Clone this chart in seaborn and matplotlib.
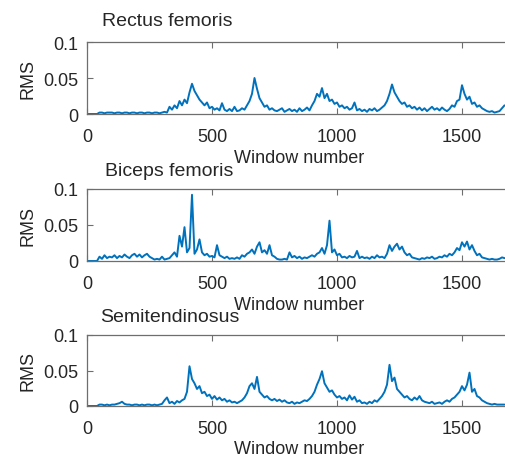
import numpy as np
import pandas as pd
import matplotlib
matplotlib.use("Agg")
import matplotlib.pyplot as plt
import seaborn as sns

# Window index: one value every 10 windows
windows = list(range(0, 1680, 10))

muscles = ["Rectus femoris", "Biceps femoris", "Semitendinosus"]

rectus_femoris = [
    0, 0, 0, 0, 0, .002, .002, .001, .002, .002,
    .002, .001, .002, .002, .001, .002, .002, .001, .002, .002,
    .001, .002, .002, .001, .002, .002, .001, .002, .002, .001,
    .002, .003, .002, .010, .006, .012, .008, .018, .012, .020,
    .015, .030, .042, .032, .026, .020, .016, .012, .016, .008,
    .010, .006, .008, .005, .015, .006, .004, .007, .004, .010,
    .004, .005, .008, .006, .012, .018, .028, .050, .035, .022,
    .016, .010, .012, .006, .008, .005, .004, .006, .008, .003,
    .005, .007, .004, .006, .003, .008, .004, .006, .009, .005,
    .012, .018, .028, .024, .036, .022, .028, .018, .020, .014,
    .016, .010, .012, .008, .010, .006, .008, .016, .005, .007,
    .004, .006, .003, .007, .005, .008, .004, .006, .009, .012,
    .018, .028, .041, .030, .024, .018, .014, .016, .010, .012,
    .008, .010, .006, .009, .005, .008, .004, .007, .010, .006,
    .008, .005, .009, .006, .004, .007, .012, .010, .018, .020,
    .040, .028, .020, .024, .014, .016, .010, .012, .008, .006,
    .004, .003, .004, .002, .003, .004, .008, .012,
]

biceps_femoris = [
    0, 0, 0, 0, 0, .006, .003, .008, .004, .006,
    .005, .008, .004, .007, .005, .009, .006, .004, .008, .010,
    .006, .009, .005, .008, .010, .006, .004, .002, .003, .002,
    .006, .002, .003, .004, .008, .012, .006, .035, .020, .047,
    .012, .018, .092, .010, .016, .030, .012, .008, .010, .006,
    .007, .005, .022, .008, .006, .004, .006, .003, .004, .003,
    .005, .003, .008, .006, .010, .012, .016, .010, .020, .026,
    .012, .015, .010, .022, .008, .006, .003, .002, .002, .003,
    .002, .012, .005, .007, .004, .006, .003, .005, .004, .006,
    .008, .006, .010, .012, .018, .010, .022, .056, .012, .016,
    .008, .010, .005, .006, .004, .007, .005, .006, .014, .004,
    .006, .004, .005, .003, .006, .004, .008, .005, .006, .004,
    .010, .022, .014, .020, .024, .016, .020, .012, .008, .010,
    .005, .004, .003, .002, .004, .003, .005, .004, .006, .003,
    .004, .006, .005, .008, .006, .010, .008, .012, .018, .015,
    .026, .020, .027, .016, .022, .014, .008, .010, .005, .004,
    .003, .002, .003, .002, .002, .003, .005, .004,
]

semitendinosus = [
    0, 0, 0, 0, 0, .002, .002, .001, .002, .001,
    .002, .002, .003, .004, .006, .003, .002, .002, .001, .002,
    .002, .001, .002, .001, .002, .002, .001, .002, .001, .002,
    .003, .008, .012, .004, .006, .003, .007, .005, .008, .010,
    .020, .056, .038, .032, .024, .028, .018, .020, .014, .016,
    .010, .014, .009, .012, .008, .010, .006, .008, .005, .006,
    .004, .006, .008, .012, .018, .028, .032, .024, .041, .020,
    .016, .012, .014, .010, .008, .010, .007, .009, .006, .008,
    .005, .004, .006, .003, .005, .004, .006, .008, .007, .010,
    .014, .020, .030, .038, .049, .032, .026, .020, .022, .016,
    .012, .014, .010, .012, .008, .015, .009, .013, .006, .008,
    .004, .005, .003, .006, .004, .008, .006, .010, .014, .020,
    .030, .058, .035, .040, .024, .020, .016, .012, .014, .010,
    .008, .012, .009, .014, .008, .006, .005, .004, .006, .003,
    .004, .005, .003, .006, .008, .006, .010, .012, .016, .020,
    .028, .022, .030, .047, .020, .024, .014, .012, .008, .006,
    .004, .003, .002, .003, .002, .002, .002, .002,
]

series = [rectus_femoris, biceps_femoris, semitendinosus]

x_ticks = [0, 500, 1000, 1500]
y_ticks = [0, 0.05, 0.1]
y_tick_labels = ["0", "0.05", "0.1"]

sns.set_style("white")
plt.rcParams["font.family"] = ["Liberation Sans", "DejaVu Sans"]

W, H = 505, 460
fig = plt.figure(figsize=(W / 100, H / 100), dpi=100)

line_color = "#0072BD"
spine_color = "#6e6e6e"
text_color = "#262626"

# (top, bottom) of each axes box in pixels
boxes = [(43, 115), (190, 262), (336, 407)]
title_pos = [(102, 22), (105, 172), (100, 318)]
left_px = 87
width_px = 425  # spans 0..1700, right part falls outside the canvas

for i, (name, vals) in enumerate(zip(muscles, series)):
    top, bot = boxes[i]
    ax = fig.add_axes([left_px / W, 1 - bot / H, width_px / W, (bot - top) / H])
    df = pd.DataFrame({"Window number": windows, "RMS": vals})
    sns.lineplot(data=df, x="Window number", y="RMS", ax=ax,
                 color=line_color, linewidth=1.4)
    ax.set_xlim(0, 1700)
    ax.set_ylim(0, 0.1)
    ax.set_xticks(x_ticks)
    ax.set_yticks(y_ticks)
    ax.set_yticklabels(y_tick_labels)
    ax.tick_params(direction="in", length=4, width=0.8, colors=spine_color,
                   labelcolor=text_color, labelsize=13, top=True, bottom=True,
                   left=True, right=False)
    ax.tick_params(axis="x", pad=10)
    ax.tick_params(axis="y", pad=6)
    for s in ax.spines.values():
        s.set_color(spine_color)
        s.set_linewidth(0.9)
    ax.spines["right"].set_visible(False)
    ax.set_xlabel("Window number", fontsize=13, color=text_color)
    ax.xaxis.set_label_coords(0.5, -0.48)
    ax.set_ylabel("RMS", fontsize=13, color=text_color)
    ax.yaxis.set_label_coords(-0.118, 0.5)
    tx, ty = title_pos[i]
    fig.text(tx / W, 1 - ty / H, name, fontsize=14, color=text_color,
             ha="left", va="center")

fig.savefig("out.png", dpi=100, facecolor="white")
